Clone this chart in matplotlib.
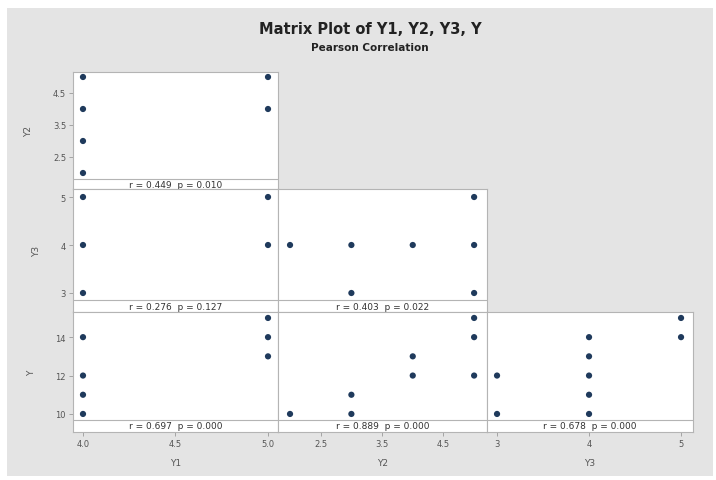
import matplotlib.pyplot as plt
from matplotlib.patches import Rectangle

# observations (unique combinations visible in the matrix)
y1 = [5, 5, 5, 4, 4, 4, 4, 4, 4]
y2 = [5, 4, 5, 5, 5, 4, 3, 3, 2]
y3 = [5, 4, 4, 5, 3, 4, 4, 3, 4]
y = [15, 13, 14, 14, 12, 12, 11, 10, 10]

names = ['Y1', 'Y2', 'Y3', 'Y']
columns = [y1, y2, y3, y]

# printed correlation results, keyed by (row var, col var)
stats = {
    (1, 0): 'r = 0.449  p = 0.010',
    (2, 0): 'r = 0.276  p = 0.127',
    (2, 1): 'r = 0.403  p = 0.022',
    (3, 0): 'r = 0.697  p = 0.000',
    (3, 1): 'r = 0.889  p = 0.000',
    (3, 2): 'r = 0.678  p = 0.000',
}

x_ticks = [[4.0, 4.5, 5.0], [2.5, 3.5, 4.5], [3, 4, 5]]
x_ticklabels = [['4.0', '4.5', '5.0'], ['2.5', '3.5', '4.5'], ['3', '4', '5']]
y_ticks = [[4.5, 3.5, 2.5], [5, 4, 3], [14, 12, 10]]
y_ticklabels = [['4.5', '3.5', '2.5'], ['5', '4', '3'], ['14', '12', '10']]

x_lims = [(3.946, 5.054), (1.804, 5.21), (2.891, 5.13)]
# (bottom, strip line, top)
y_lims = [(1.5, 1.81, 5.156), (2.604, 2.854, 5.167), (9.06, 9.69, 15.31)]

W, H = 716, 481
col_px = [(73, 278), (278, 487), (487, 693)]
row_px = [(73, 190), (190, 313), (313, 433)]

fig = plt.figure(figsize=(W / 100, H / 100), dpi=100, facecolor='white')
fig.patches.append(Rectangle((7 / W, 1 - 477 / H), 706 / W, 468 / H,
                             transform=fig.transFigure, facecolor='#e4e4e4',
                             edgecolor='none', zorder=-10))

tick_color = '#555555'
dot_color = '#1f3a5c'

for r in range(3):
    for c in range(r + 1):
        x0, x1 = col_px[c]
        t0, t1 = row_px[r]
        ax = fig.add_axes([x0 / W, 1 - t1 / H, (x1 - x0) / W, (t1 - t0) / H])
        ax.set_facecolor('white')
        for s in ax.spines.values():
            s.set_color('#b4b4b4')
            s.set_linewidth(0.8)
        pts = sorted(set(zip(columns[c], columns[r + 1])))
        ax.scatter([p[0] for p in pts], [p[1] for p in pts], s=20,
                   color=dot_color, edgecolor='none', zorder=3)
        lo, strip, hi = y_lims[r]
        ax.set_xlim(*x_lims[c])
        ax.set_ylim(lo, hi)
        ax.axhline(strip, color='#b4b4b4', lw=0.8)
        ax.text(0.5, (lo + strip) / 2, stats[(r + 1, c)],
                transform=ax.get_yaxis_transform(), ha='center', va='center',
                fontsize=6.5, color='#333333')
        ax.tick_params(length=3, width=0.6, color='#999999',
                       labelsize=6, labelcolor=tick_color, pad=2)
        if c == 0:
            ax.set_yticks(y_ticks[r], y_ticklabels[r])
            ax.set_ylabel(names[r + 1], fontsize=6.5, color=tick_color,
                          labelpad=14)
        else:
            ax.set_yticks([])
        if r == 2:
            ax.set_xticks(x_ticks[c], x_ticklabels[c])
            ax.set_xlabel(names[c], fontsize=6.5, color=tick_color,
                          labelpad=7)
        else:
            ax.set_xticks([])

fig.text(370 / W, 1 - 30 / H, 'Matrix Plot of Y1, Y2, Y3, Y', ha='center',
         va='center', fontsize=10.5, fontweight='bold', color='#222222')
fig.text(370 / W, 1 - 48 / H, 'Pearson Correlation', ha='center',
         va='center', fontsize=7.5, fontweight='bold', color='#222222')

fig.savefig('out.png', dpi=100, facecolor='white')
